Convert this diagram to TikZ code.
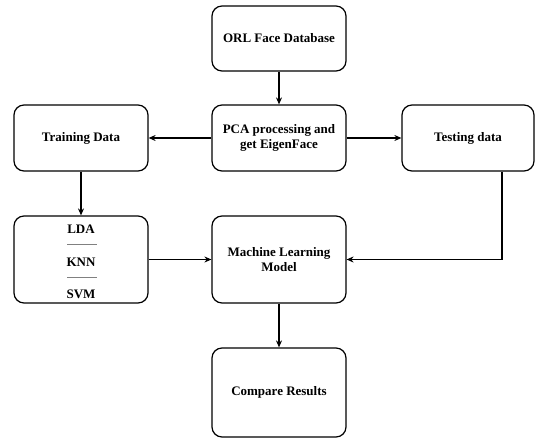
\documentclass[tikz,border=0pt]{standalone}
\usepackage{fontspec}
\setmainfont{Liberation Serif}
\usetikzlibrary{arrows.meta}
\begin{document}
\begin{tikzpicture}[x=1pt,y=-1pt,
  box/.style={draw, line width=1.2pt, rounded corners=10pt, font=\bfseries\fontsize{13}{15.5}\selectfont, align=center, inner sep=0pt, minimum width=134pt},
  lbl/.style={font=\bfseries\fontsize{13}{15.5}\selectfont, inner sep=1pt},
  arr/.style={line width=1.1pt, -{Stealth[length=7pt,width=6pt]}},
  sep/.style={draw=gray, line width=0.6pt}]
\useasboundingbox (0,0) rectangle (538,438);
\node[box, minimum height=65pt] (orl) at (279,38.5) {ORL Face Database};
\node[box, minimum height=66pt] (pca) at (279,138) {PCA processing and\\get EigenFace};
\node[box, minimum height=66pt] (train) at (81,138) {Training Data};
\node[box, minimum height=66pt, minimum width=132pt] (test) at (468,138) {Testing data};
\node[box, minimum height=87pt] (lda) at (81,259.5) {};
\node[box, minimum height=87pt] (ml) at (279,259.5) {Machine Learning\\Model};
\node[box, minimum height=89pt] (cmp) at (279,392.5) {Compare Results};
\node[lbl] (t1) at (81,229) {LDA};
\node[lbl] (t2) at (81,262) {KNN};
\node[lbl] (t3) at (81,294) {SVM};
\coordinate (s1l) at (67,244); \coordinate (s1r) at (97,244);
\coordinate (s2l) at (67,277); \coordinate (s2r) at (97,277);
\draw[sep] (s1l) -- (s1r);
\draw[sep] (s2l) -- (s2r);
\draw[arr] (orl) -- (pca);
\draw[arr] (pca) -- (train);
\draw[arr] (pca) -- (test);
\draw[arr] (train) -- (lda);
\draw[arr] (lda) -- (ml);
\draw[arr] ([xshift=34pt]test.south) |- (ml.east);
\draw[arr] (ml) -- (cmp);
\end{tikzpicture}
\end{document}
